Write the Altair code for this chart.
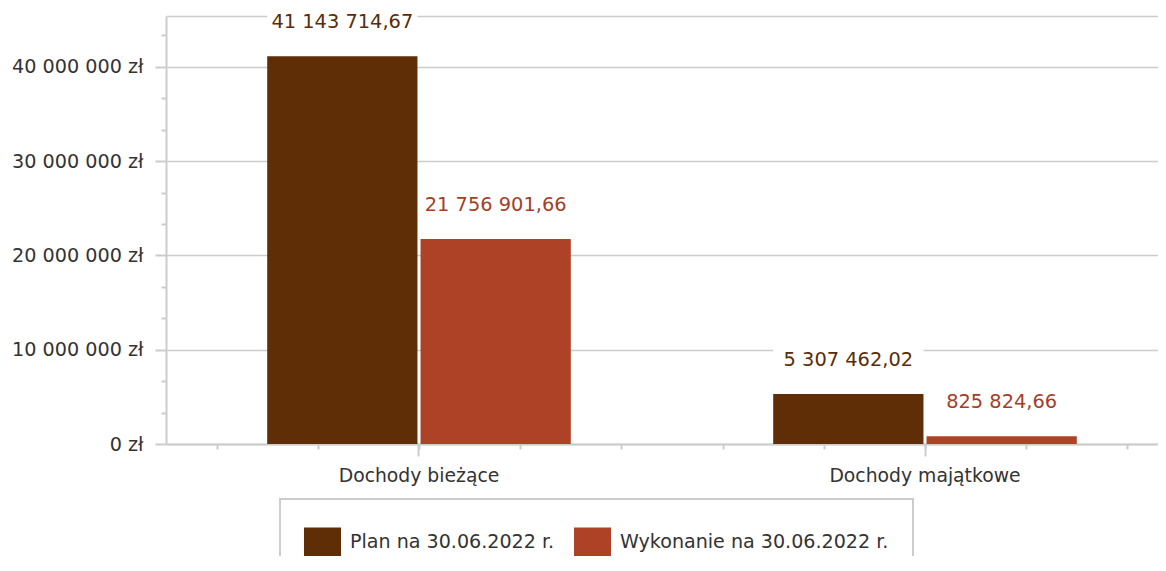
import altair as alt
import pandas as pd

# ---- data ----
categories = ["Dochody bieżące", "Dochody majątkowe"]
series = ["Plan na 30.06.2022 r.", "Wykonanie na 30.06.2022 r."]
plan_values = [41143714.67, 5307462.02]
wykonanie_values = [21756901.66, 825824.66]
Y_MAX = 45400000

rows = []
for i, c in enumerate(categories):
    rows.append({"kategoria": c, "seria": series[0], "wartosc": plan_values[i]})
    rows.append({"kategoria": c, "seria": series[1], "wartosc": wykonanie_values[i]})
df = pd.DataFrame(rows)

# ---- styling ----
bar_colors = ["#5f2e06", "#ad4227"]
label_colors = ["#5a2c08", "#a33f28"]
grid_color = "#cccccc"
text_color = "#333333"
font = "DejaVu Sans"

PLOT_W = 1012
PLOT_H = 428

y_tick_values = [i * 10000000 / 3 for i in range(14)] + [Y_MAX]
x_minor_values = [i + 0.5 for i in range(10)]

is_major = "abs(datum.value/10000000 - round(datum.value/10000000)) < 0.001"
is_top = f"datum.value > {Y_MAX - 1000}"

x_enc = alt.X(
    "kategoria:N",
    sort=categories,
    scale=alt.Scale(paddingInner=0.4, paddingOuter=0.2),
    axis=alt.Axis(
        title=None, labelAngle=0, grid=False,
        domainColor=grid_color, domainWidth=2,
        tickColor=grid_color, tickWidth=2, tickSize=12,
        labelPadding=10, labelFont=font, labelFontSize=18.8, labelColor=text_color,
        labelLimit=600,
    ),
)
xoff = alt.XOffset("seria:N", sort=series, scale=alt.Scale(paddingInner=0.02))

y_enc = alt.Y(
    "wartosc:Q",
    scale=alt.Scale(domain=[0, Y_MAX], nice=False),
    axis=alt.Axis(
        title=None,
        values=y_tick_values,
        format="$,.0f",
        labelExpr=f"({is_major}) ? datum.label : ''",
        labelFont=font, labelFontSize=19.2, labelColor=text_color, labelPadding=12,
        domainColor=grid_color, domainWidth=2,
        tickColor=grid_color, tickWidth=2,
        tickSize={"condition": {"test": is_major, "value": 11}, "value": 5},
        tickOpacity={"condition": {"test": is_top, "value": 0}, "value": 1},
        gridColor=grid_color, gridWidth=1.6,
        gridOpacity={"condition": {"test": f"({is_major}) || ({is_top})", "value": 1}, "value": 0},
        labelOverlap=False,
    ),
)

base = alt.Chart(df)

bars = base.mark_bar().encode(
    x=x_enc,
    xOffset=xoff,
    y=y_enc,
    color=alt.Color(
        "seria:N",
        sort=series,
        scale=alt.Scale(domain=series, range=bar_colors),
        legend=alt.Legend(
            title=None, orient="none", legendX=114, legendY=483,
            direction="horizontal",
            symbolType="M-1,-0.784H1V0.784H-1Z", symbolSize=1369,
            symbolStrokeWidth=0, symbolOpacity=1,
            labelFont=font, labelFontSize=19.1, labelColor=text_color,
            labelOffset=9, columnPadding=19, padding=24, labelLimit=600,
            strokeColor=grid_color,
        ),
    ),
)

label_bg = base.mark_bar(color="white", yOffset=-45, y2Offset=-23).encode(
    x=x_enc,
    xOffset=xoff,
    y=y_enc,
    y2=alt.Y2("wartosc:Q"),
)

labels = base.mark_text(dy=-34, baseline="middle", font=font, fontSize=19.4).encode(
    x=x_enc,
    xOffset=xoff,
    y=y_enc,
    text=alt.Text("wartosc:Q", format=",.2f"),
    color=alt.Color("seria:N", sort=series,
                    scale=alt.Scale(domain=series, range=label_colors), legend=None),
)

main = alt.layer(bars, label_bg, labels).resolve_scale(color="independent")

x_minor = base.mark_point(opacity=0).transform_calculate(pos="5").encode(
    x=alt.X(
        "pos:Q",
        scale=alt.Scale(domain=[0, 10], nice=False, zero=False),
        axis=alt.Axis(
            orient="bottom", title=None, values=x_minor_values,
            labels=False, domain=False, grid=False,
            tickColor=grid_color, tickWidth=2, tickSize=5,
        ),
    ),
)

chart = (
    alt.layer(main, x_minor)
    .resolve_scale(x="independent")
    .properties(
        width=PLOT_W, height=PLOT_H,
        autosize=alt.AutoSizeParams(type="none"),
        padding={"left": 158, "top": 8, "right": -20, "bottom": 112},
    )
    .configure(
        locale={"number": {"decimal": ",", "thousands": " ", "grouping": [3],
                           "currency": ["", " zł"]}}
    )
    .configure_legend(strokeWidth=2)
    .configure_view(stroke=None)
)

chart.save("out.html", embed_options={"renderer": "svg", "actions": False})
